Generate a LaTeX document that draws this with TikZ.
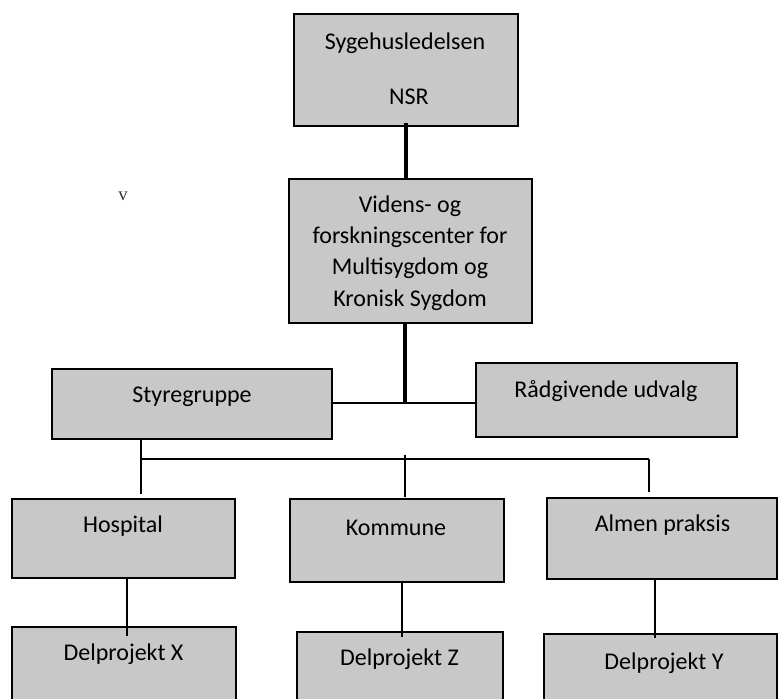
\documentclass[tikz,border=0pt]{standalone}
\usepackage{fontspec}
\setmainfont{Carlito}
\newfontfamily\vfont{Liberation Serif}
\definecolor{boxgray}{RGB}{200,200,200}
\tikzset{
  orgbox/.style={draw, fill=boxgray, line width=1.1pt, inner sep=0pt},
  orgtext/.style={font=\fontsize{18}{23.4}\selectfont, align=center, inner sep=0pt},
  thinline/.style={line width=0.9pt},
  midline/.style={line width=1.3pt},
  heavyline/.style={line width=2.4pt},
}
\begin{document}
\begin{tikzpicture}[x=0.75pt,y=0.75pt,yscale=-1,xscale=1]
\useasboundingbox (0,0) rectangle (779,699);
\clip (0,0) rectangle (779,699);

%Shape: Rectangle
\node[orgbox, minimum width=168pt, minimum height=84pt] (sygehus) at (406,70) {};
%Shape: Rectangle
\node[orgbox, minimum width=182.25pt, minimum height=108pt] (videns) at (410.5,251) {};
%Shape: Rectangle
\node[orgbox, minimum width=210pt, minimum height=52.5pt] (styre) at (192,404) {};
%Shape: Rectangle
\node[orgbox, minimum width=195.75pt, minimum height=55.5pt] (raad) at (606.5,400) {};
%Shape: Rectangle
\node[orgbox, minimum width=167.25pt, minimum height=59.25pt] (hosp) at (123.5,538.5) {};
%Shape: Rectangle
\node[orgbox, minimum width=160.5pt, minimum height=62.25pt] (komm) at (397,540.5) {};
%Shape: Rectangle
\node[orgbox, minimum width=172.5pt, minimum height=60.75pt] (almen) at (662,538.5) {};
%Shape: Rectangle
\node[orgbox, minimum width=168pt, minimum height=62.25pt] (delx) at (124,668.5) {};
%Shape: Rectangle
\node[orgbox, minimum width=154.5pt, minimum height=62.25pt] (delz) at (400,673.5) {};
%Shape: Rectangle
\node[orgbox, minimum width=174.75pt, minimum height=60.75pt] (dely) at (660.5,674.5) {};

%Straight Lines
\draw[heavyline] ([yshift=-3pt]sygehus.south) -- (sygehus.south |- videns.north);
\coordinate (jA) at (405,403);
%Straight Lines
\draw[heavyline] (videns.south -| jA) -- (jA);
%Straight Lines
\draw[thinline] (styre.east |- jA) -- (raad.west |- jA);

\coordinate (jB) at (141,459);
\coordinate (jC) at (649,459);
%Straight Lines
\draw[thinline] (styre.south -| jB) -- ([yshift=-3pt]jB |- hosp.north);
%Straight Lines
\draw[midline] (jB) -- (jC);
%Straight Lines
\draw[midline] (jC) -- ([yshift=-3.75pt]jC |- almen.north);
%Straight Lines
\draw[thinline] (405,455) -- ([yshift=-1.5pt]405,499);

%Straight Lines
\draw[thinline] (hosp.south -| 127,0) -- ([yshift=7.5pt]delx.north -| 127,0);
%Straight Lines
\draw[midline] (komm.south -| 402,0) -- ([yshift=4.5pt]delz.north -| 402,0);
%Straight Lines
\draw[midline] (almen.south -| 655,0) -- ([yshift=3.75pt]dely.north -| 655,0);

%Text
\node[orgtext] (tSyg) at (405,43) {Sygehusledelsen};
\node[orgtext] (tNSR) at (409,97) {NSR};
\node[orgtext] (tVid) at (410,253) {Videns- og\\forskningscenter for\\Multisygdom og\\Kronisk Sygdom};
\node[orgtext] (tSty) at (192,397) {Styregruppe};
\node[orgtext] (tRaad) at (606,391) {Rådgivende udvalg};
\node[orgtext] (tHosp) at (123,526) {Hospital};
\node[orgtext] (tKomm) at (396,528) {Kommune};
\node[orgtext] (tAlm) at (662.5,525) {Almen praksis};
\node[orgtext] (tDx) at (123.5,654) {Delprojekt X};
\node[orgtext] (tDz) at (399.5,659) {Delprojekt Z};
\node[orgtext] (tDy) at (664,663) {Delprojekt Y};
\node[font=\vfont\fontsize{14}{14}\selectfont, text=black!80] (vmark) at (123,196) {v};

\end{tikzpicture}
\end{document}
